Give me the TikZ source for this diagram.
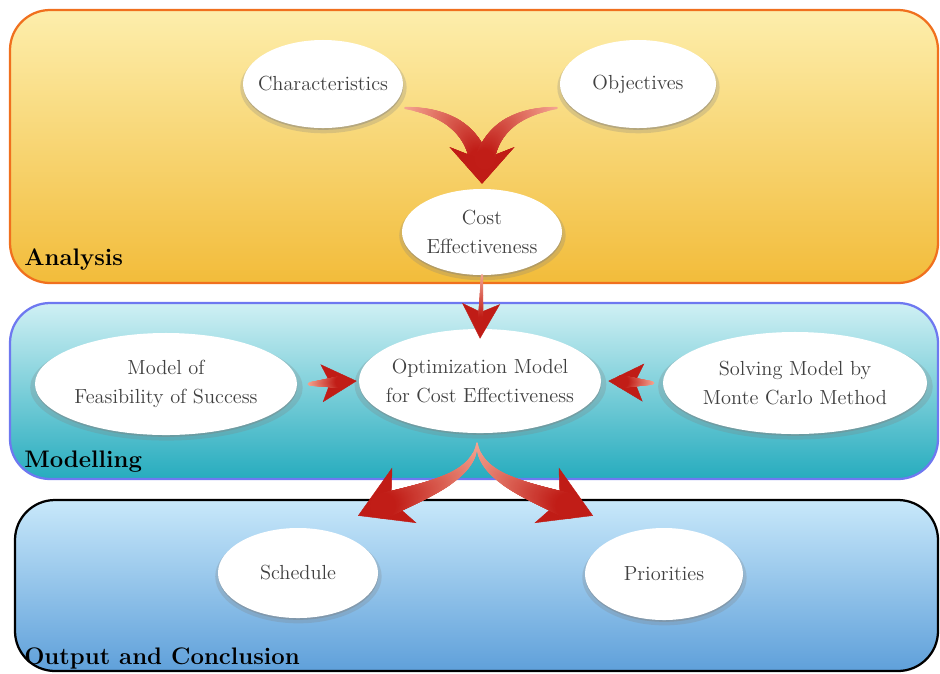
\documentclass[tikz,border=0pt]{standalone}
\definecolor{anatop}{RGB}{253,238,172}
\definecolor{anabot}{RGB}{242,188,58}
\definecolor{anaedge}{RGB}{240,112,30}
\definecolor{modtop}{RGB}{208,240,244}
\definecolor{modbot}{RGB}{38,172,190}
\definecolor{modedge}{RGB}{110,120,240}
\definecolor{outtop}{RGB}{200,232,250}
\definecolor{outbot}{RGB}{95,160,218}
\definecolor{arrlight}{RGB}{245,165,145}
\definecolor{arrdark}{RGB}{192,28,22}
\usepackage{tikz}
\usetikzlibrary{arrows.meta,shapes.geometric,shadows,decorations.markings}
\tikzset{
  panel/.style={line width=1.6pt, rounded corners=1cm},
  bubble/.style={ellipse, fill=white, inner sep=0pt, inner xsep=-6pt, align=center,
              font=\fontsize{14.5}{21}\selectfont, text=black!75,
              drop shadow={shadow xshift=.3pt, shadow yshift=-2.4pt, opacity=.25, shadow scale=1.04},
              drop shadow={shadow xshift=.2pt, shadow yshift=-1.3pt, opacity=.4}},
  stage/.style={anchor=base west, inner sep=0pt, font=\fontsize{17}{20}\selectfont\bfseries},
  fat/.style n args={3}{arrdark, line width=.3pt,
      postaction={decorate, decoration={markings,
        mark=between positions 0 and #3 step 0.004 with {
          \pgfmathsetmacro\tapt{min(1,(\pgfkeysvalueof{/pgf/decoration/mark info/sequence number}-1)*0.004/#3)}
          \pgfmathsetmacro\tapr{#1+(#2-#1)*\tapt}
          \pgfmathtruncatemacro\tapc{100*\tapt}
          \fill[arrdark!\tapc!arrlight] (0,0) circle (\tapr pt);}}}},
  bighead/.style={-{Stealth[length=26pt, width=46pt, inset=9pt]}},
  smallhead/.style={-{Stealth[length=25pt, width=27pt, inset=6pt]}},
  widehead/.style={-{Stealth[length=36pt, width=43pt, inset=10pt]}},
}
\begin{document}
\begin{tikzpicture}[x=0.025cm, y=-0.025cm]
  \useasboundingbox (0,0) rectangle (940,673);
  % the three stages
  \path[panel, draw=anaedge, top color=anatop, bottom color=anabot] (10,10) rectangle (938,283);
  \path[panel, draw=modedge, top color=modtop, bottom color=modbot] (10,303) rectangle (938,479);
  \path[panel, draw=black, top color=outtop, bottom color=outbot] (15,500) rectangle (938,671);
  \node[stage] (lblana) at (24,265) {Analysis};
  \node[stage] (lblmod) at (24,467) {Modelling};
  \node[stage] (lblout) at (24,664) {Output and Conclusion};

  \node[bubble, minimum width=3.9cm, minimum height=2.2cm] (char) at (323,84) {Characteristics};
  \node[bubble, minimum width=3.9cm, minimum height=2.2cm] (obj) at (638,84) {Objectives};
  \node[bubble, minimum width=4cm, minimum height=2.15cm] (cost) at (482,232) {Cost\\Effectiveness};
  \node[bubble, minimum width=6.55cm, minimum height=2.55cm] (feas) at (166,384) {Model of\\Feasibility of Success};
  \node[bubble, minimum width=5.9cm, minimum height=2.6cm] (optim) at (480,381) {Optimization Model\\for Cost Effectiveness};
  \node[bubble, minimum width=6.6cm, minimum height=2.55cm] (solve) at (795,383) {Solving Model by\\Monte Carlo Method};
  \node[bubble, minimum width=4cm, minimum height=2.25cm] (sched) at (298,573) {Schedule};
  \node[bubble, minimum width=3.95cm, minimum height=2.3cm] (prio) at (664,574) {Priorities};

  \draw[fat={0.8}{7}{0.8}, bighead] ([shift={(2,24)}]char.east) .. controls +(45,4) and +(0,-50) .. ([shift={(0,-5)}]cost.north);
  \draw[fat={0.8}{7}{0.8}, bighead] ([shift={(-3,24)}]obj.west) .. controls +(-45,4) and +(0,-50) .. ([shift={(0,-5)}]cost.north);
  \draw[fat={0.8}{1.8}{0.7}, smallhead] (cost.south) -- ([shift={(0,10)}]optim.north);
  \draw[fat={1.2}{4.5}{0.7}, smallhead] ([shift={(12,0)}]feas.east) -- ([shift={(-2,0)}]optim.west);
  \draw[fat={1.2}{4.5}{0.7}, smallhead] ([shift={(-10,0)}]solve.west) -- ([shift={(7,0)}]optim.east);
  \draw[fat={0.6}{9}{0.82}, widehead] ([shift={(-3,10)}]optim.south) .. controls +(-4,40) and +(50,-22) .. ([shift={(60,-12)}]sched.north);
  \draw[fat={0.6}{9}{0.82}, widehead] ([shift={(-3,10)}]optim.south) .. controls +(4,40) and +(-50,-22) .. ([shift={(-71,-12)}]prio.north);
\end{tikzpicture}
\end{document}
